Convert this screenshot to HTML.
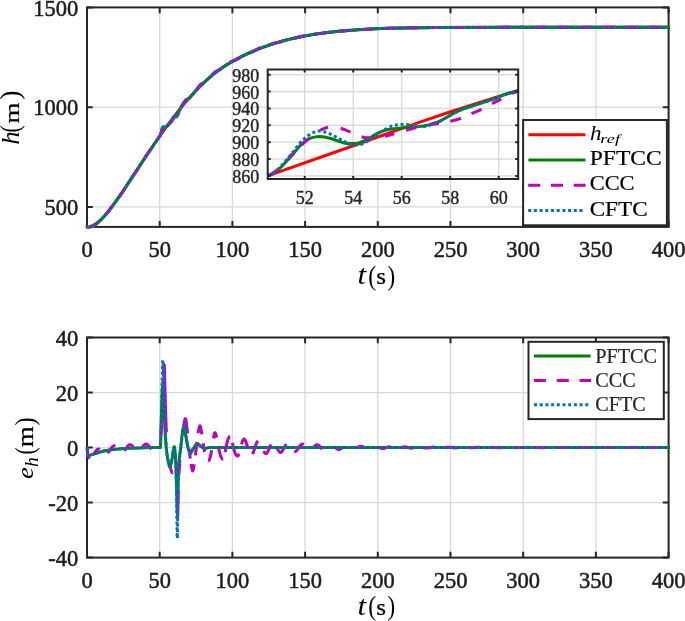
<!DOCTYPE html>
<html><head><meta charset="utf-8"><title>h and e_h plots</title><style>html,body{margin:0;padding:0;background:#fff}svg{display:block}</style></head><body>
<svg width="685" height="621" viewBox="0 0 685 621" font-family="'Liberation Serif', serif">
<rect width="685" height="621" fill="#fff"/>
<defs><clipPath id="c1"><rect x="85.5" y="5.9" width="584.6" height="222.5"/></clipPath><clipPath id="c2"><rect x="85.5" y="336.0" width="584.6" height="223.10000000000002"/></clipPath><clipPath id="ci"><rect x="267.7" y="69.5" width="252.00000000000006" height="109.5"/></clipPath></defs>
<line x1="159.70" y1="7.4" x2="159.70" y2="226.9" stroke="#d8d8d8" stroke-width="1.3"/>
<line x1="232.40" y1="7.4" x2="232.40" y2="226.9" stroke="#d8d8d8" stroke-width="1.3"/>
<line x1="305.10" y1="7.4" x2="305.10" y2="226.9" stroke="#d8d8d8" stroke-width="1.3"/>
<line x1="377.80" y1="7.4" x2="377.80" y2="226.9" stroke="#d8d8d8" stroke-width="1.3"/>
<line x1="450.50" y1="7.4" x2="450.50" y2="226.9" stroke="#d8d8d8" stroke-width="1.3"/>
<line x1="523.20" y1="7.4" x2="523.20" y2="226.9" stroke="#d8d8d8" stroke-width="1.3"/>
<line x1="595.90" y1="7.4" x2="595.90" y2="226.9" stroke="#d8d8d8" stroke-width="1.3"/>
<line x1="87.0" y1="206.95" x2="668.6" y2="206.95" stroke="#d8d8d8" stroke-width="1.3"/>
<line x1="87.0" y1="107.17" x2="668.6" y2="107.17" stroke="#d8d8d8" stroke-width="1.3"/>
<path d="M87.00 226.9v-5.8M87.00 7.4v5.8M159.70 226.9v-5.8M159.70 7.4v5.8M232.40 226.9v-5.8M232.40 7.4v5.8M305.10 226.9v-5.8M305.10 7.4v5.8M377.80 226.9v-5.8M377.80 7.4v5.8M450.50 226.9v-5.8M450.50 7.4v5.8M523.20 226.9v-5.8M523.20 7.4v5.8M595.90 226.9v-5.8M595.90 7.4v5.8M668.60 226.9v-5.8M668.60 7.4v5.8M87.0 206.95h5.8M668.6 206.95h-5.8M87.0 107.17h5.8M668.6 107.17h-5.8M87.0 7.40h5.8M668.6 7.40h-5.8" stroke="#262626" stroke-width="2" fill="none"/>
<rect x="87.0" y="7.4" width="581.6" height="219.5" fill="none" stroke="#262626" stroke-width="2"/>
<g font-size="22.5" fill="#1c1c1c" stroke="#1c1c1c" stroke-width="0.5">
<text x="87.00" y="256.8" text-anchor="middle">0</text>
<text x="159.70" y="256.8" text-anchor="middle">50</text>
<text x="232.40" y="256.8" text-anchor="middle">100</text>
<text x="305.10" y="256.8" text-anchor="middle">150</text>
<text x="377.80" y="256.8" text-anchor="middle">200</text>
<text x="450.50" y="256.8" text-anchor="middle">250</text>
<text x="523.20" y="256.8" text-anchor="middle">300</text>
<text x="595.90" y="256.8" text-anchor="middle">350</text>
<text x="668.60" y="256.8" text-anchor="middle">400</text>
<text x="78.3" y="215.1" text-anchor="end">500</text>
<text x="78.3" y="115.4" text-anchor="end">1000</text>
<text x="78.3" y="15.6" text-anchor="end">1500</text>
</g>
<g clip-path="url(#c1)">
<path d="M87.00 226.93L88.16 226.88L89.33 226.70L90.49 226.42L91.73 225.99L92.96 225.46L94.20 224.81L95.43 224.05L96.74 223.15L98.05 222.13L99.43 220.96L102.19 218.31L105.17 215.08L108.37 211.25L111.21 207.63L114.34 203.45L117.53 199.01L120.95 194.11L127.13 184.95L142.54 161.49L151.27 148.44L159.99 135.76L167.92 124.70L172.13 119.03L176.28 113.63L180.27 108.58L184.20 103.81L188.05 99.30L191.91 94.97L195.69 90.90L199.54 86.94L203.32 83.24L207.10 79.69L210.59 76.59L213.86 73.86L217.21 71.27L220.62 68.80L224.26 66.36L228.04 64.00L232.55 61.36L237.42 58.69L242.29 56.19L247.23 53.82L252.25 51.58L257.34 49.46L262.57 47.44L267.88 45.54L273.26 43.77L278.78 42.09L284.38 40.53L290.12 39.08L295.94 37.74L301.90 36.50L308.01 35.36L314.33 34.31L320.66 33.38L327.27 32.52L334.11 31.75L341.30 31.05L349.01 30.41L357.30 29.82L365.88 29.30L374.75 28.86L388.41 28.33L403.10 27.94L419.17 27.69L438.29 27.53L514.26 27.35L668.60 27.35" fill="none" stroke="#ff0000" stroke-width="3.0" stroke-linejoin="round" stroke-linecap="square"/>
<path d="M87.00 226.93L87.65 227.34L88.09 227.46L89.25 227.28L90.56 226.93L91.94 226.41L93.32 225.75L94.71 224.95L96.16 223.97L97.54 222.92L98.92 221.76L101.76 219.05L104.81 215.73L108.16 211.71L111.14 207.88L114.41 203.48L117.82 198.70L121.53 193.35L127.71 184.13L140.65 164.38L147.41 154.17L154.10 144.27L160.28 135.34L160.50 134.87L160.72 134.16L161.95 129.31L162.54 127.60L162.90 126.85L163.12 126.67L163.33 126.66L163.92 126.88L164.64 127.37L165.01 127.40L165.44 127.34L165.88 127.19L166.75 126.63L167.48 126.00L168.71 124.79L169.88 123.43L171.11 121.52L173.51 117.32L173.95 116.69L174.46 116.14L174.89 115.77L175.33 115.60L175.69 115.63L176.35 116.03L176.64 116.12L176.93 116.04L177.22 115.79L177.58 115.28L177.88 114.70L178.97 111.59L179.77 109.81L182.09 105.43L183.84 102.67L184.49 101.93L185.80 101.08L187.18 100.03L189.87 97.65L190.82 96.59L195.25 91.22L197.79 88.44L208.41 78.51L210.88 76.34L213.43 74.22L216.70 71.65L220.11 69.16L223.68 66.74L227.38 64.39L231.96 61.69L236.91 58.96L241.85 56.41L246.87 53.99L251.96 51.71L257.19 49.52L262.50 47.47L267.88 45.54L273.26 43.77L278.78 42.09L284.38 40.53L290.12 39.08L295.94 37.74L301.90 36.50L308.01 35.36L314.33 34.31L320.66 33.38L327.27 32.52L334.11 31.75L341.30 31.05L349.01 30.41L357.30 29.82L365.88 29.30L374.75 28.86L388.41 28.33L403.10 27.94L419.17 27.69L438.29 27.53L514.26 27.35L668.60 27.35" fill="none" stroke="#008000" stroke-width="3.0" stroke-linejoin="round" stroke-linecap="square"/>
<path d="M87.00 226.93L87.65 227.37L88.02 227.52L88.89 227.51L89.91 227.39L90.93 227.05L91.94 226.61L93.03 226.00L94.20 225.25L95.80 224.07L97.91 222.37L100.30 220.33L102.19 218.62L104.88 215.88L107.50 212.74L109.39 210.21L114.41 203.22L119.79 196.05L121.97 192.97L124.15 189.66L130.26 180.00L136.29 171.23L138.33 168.18L144.00 159.13L146.03 155.98L148.21 152.80L153.59 145.27L158.17 138.35L160.28 135.34L160.86 133.85L161.52 131.86L162.61 127.66L163.55 125.06L164.21 123.78L164.35 123.68L164.50 123.76L165.01 124.52L165.73 125.33L166.02 125.56L166.68 125.73L166.97 125.71L167.26 125.59L167.92 125.14L168.71 124.44L171.55 121.54L172.64 120.18L173.88 118.07L174.82 116.95L175.26 116.59L175.62 116.40L175.91 116.36L176.71 116.52L177.00 116.41L177.29 116.15L177.73 115.55L178.09 114.81L179.11 111.89L179.77 110.34L181.58 106.92L182.75 104.50L184.35 101.77L185.51 100.16L186.24 99.54L187.54 98.81L190.67 97.40L191.76 96.63L192.41 96.08L193.00 95.44L193.72 94.41L198.01 87.48L199.10 85.97L199.83 85.08L200.34 84.60L200.99 84.16L202.23 83.49L203.61 82.90L205.21 81.94L206.23 81.21L208.34 79.53L209.28 78.63L210.66 77.11L213.35 73.61L214.30 72.54L214.95 71.92L215.75 71.40L216.99 70.80L218.51 70.28L220.40 69.52L222.59 68.30L223.39 67.71L224.62 66.63L227.67 63.69L228.98 62.68L229.93 62.05L230.73 61.66L231.89 61.23L233.35 60.89L235.09 60.35L237.42 59.31L239.52 57.96L242.36 55.72L244.18 54.65L245.70 54.08L249.34 53.23L251.16 52.61L252.97 51.68L256.90 49.27L257.99 48.72L259.01 48.31L260.53 47.88L263.81 47.26L265.33 46.87L267.15 46.17L271.08 44.23L272.97 43.47L274.86 42.97L278.56 42.39L280.38 41.99L282.20 41.39L285.91 39.92L287.65 39.37L289.47 39.00L293.25 38.54L294.99 38.23L296.74 37.78L300.74 36.54L302.92 36.05L304.59 35.83L308.08 35.52L309.61 35.31L311.35 34.96L315.21 34.03L317.10 33.68L318.77 33.50L322.48 33.26L324.22 33.09L325.96 32.82L329.89 32.10L332.00 31.82L338.83 31.43L346.25 30.50L353.45 30.20L361.15 29.47L368.06 29.28L375.91 28.72L382.23 28.62L389.80 28.22L397.36 28.13L404.34 27.87L411.53 27.84L419.02 27.65L426.51 27.65L434.22 27.52L440.98 27.55L448.39 27.46L455.66 27.49L477.84 27.39L523.20 27.35" fill="none" stroke="#bf00bf" stroke-width="3.0" stroke-linejoin="round" stroke-dasharray="12 10.8"/>
<path d="M668.60 27.35L523.20 27.35" fill="none" stroke="#bf00bf" stroke-width="3.0" stroke-linejoin="round" stroke-dasharray="12 10.8" stroke-dashoffset="14.8"/>
<path d="M87.00 226.93L87.65 227.34L88.09 227.46L89.40 227.25L90.85 226.83L92.23 226.29L93.69 225.56L95.14 224.67L96.67 223.60L98.05 222.50L99.50 221.24L102.56 218.22L105.83 214.54L109.54 209.96L112.37 206.24L115.43 202.08L122.04 192.60L127.93 183.80L147.34 154.28L154.03 144.37L160.28 135.34L160.57 134.67L160.86 133.63L161.30 131.91L162.46 126.60L162.68 125.80L162.90 125.30L163.04 125.19L163.19 125.25L163.70 125.95L164.43 126.75L164.72 126.98L165.15 127.07L165.59 127.07L166.02 126.96L166.46 126.75L167.12 126.30L167.70 125.79L168.93 124.58L169.81 123.55L170.90 121.89L173.51 117.36L173.95 116.75L174.46 116.23L174.97 115.87L175.40 115.79L175.77 115.99L176.35 116.75L176.64 116.99L176.93 116.98L177.22 116.75L177.58 116.23L177.88 115.60L178.97 111.86L179.91 109.64L181.51 106.64L183.18 103.75L183.98 102.46L184.64 101.60L185.07 101.24L186.02 100.78L187.18 99.98L189.43 98.11L190.52 96.94L192.92 93.98L195.61 90.80L197.00 89.27L198.23 88.01L209.06 77.93L212.84 74.69L216.55 71.76L219.82 69.36L223.24 67.03L226.80 64.75L230.66 62.44L234.87 60.06L239.23 57.74L243.67 55.51L248.10 53.42L252.90 51.30L257.85 49.26L262.86 47.33L268.02 45.50L273.26 43.77L278.64 42.13L284.09 40.61L289.69 39.18L295.29 37.88L301.03 36.67L306.84 35.56L312.88 34.54L319.06 33.60L325.46 32.75L332.07 31.97L338.98 31.27L345.81 30.67L353.01 30.11L368.49 29.16L384.78 28.45L402.45 27.96L419.09 27.69L438.87 27.53L479.29 27.40L523.20 27.35" fill="none" stroke="#0072bd" stroke-width="3.0" stroke-linejoin="round" stroke-dasharray="3 2.7"/>
<path d="M668.60 27.35L523.20 27.35" fill="none" stroke="#0072bd" stroke-width="3.0" stroke-linejoin="round" stroke-dasharray="3 2.7" stroke-dashoffset="4.6"/>
</g>
<rect x="267.7" y="69.5" width="250.50000000000006" height="109.5" fill="#fff"/>
<line x1="304.70" y1="69.5" x2="304.70" y2="179.0" stroke="#d8d8d8" stroke-width="1.3"/>
<line x1="353.20" y1="69.5" x2="353.20" y2="179.0" stroke="#d8d8d8" stroke-width="1.3"/>
<line x1="401.70" y1="69.5" x2="401.70" y2="179.0" stroke="#d8d8d8" stroke-width="1.3"/>
<line x1="450.20" y1="69.5" x2="450.20" y2="179.0" stroke="#d8d8d8" stroke-width="1.3"/>
<line x1="498.70" y1="69.5" x2="498.70" y2="179.0" stroke="#d8d8d8" stroke-width="1.3"/>
<line x1="267.7" y1="175.90" x2="518.2" y2="175.90" stroke="#d8d8d8" stroke-width="1.3"/>
<line x1="267.7" y1="159.03" x2="518.2" y2="159.03" stroke="#d8d8d8" stroke-width="1.3"/>
<line x1="267.7" y1="142.16" x2="518.2" y2="142.16" stroke="#d8d8d8" stroke-width="1.3"/>
<line x1="267.7" y1="125.30" x2="518.2" y2="125.30" stroke="#d8d8d8" stroke-width="1.3"/>
<line x1="267.7" y1="108.43" x2="518.2" y2="108.43" stroke="#d8d8d8" stroke-width="1.3"/>
<line x1="267.7" y1="91.57" x2="518.2" y2="91.57" stroke="#d8d8d8" stroke-width="1.3"/>
<line x1="267.7" y1="74.70" x2="518.2" y2="74.70" stroke="#d8d8d8" stroke-width="1.3"/>
<g clip-path="url(#ci)">
<path d="M267.65 175.90L357.56 144.24L406.30 126.85L426.47 119.84L449.16 112.27L473.52 104.37L496.21 97.23L518.90 90.30" fill="none" stroke="#ff0000" stroke-width="3.0" stroke-linejoin="round"/>
<path d="M267.65 175.91L270.17 174.83L272.69 173.44L276.05 171.22L279.41 168.68L281.93 166.28L290.34 157.25L293.70 153.43L298.74 147.14L300.42 145.33L303.78 142.23L305.46 140.88L306.30 140.29L307.14 139.77L308.82 138.91L311.34 137.86L313.02 137.36L315.55 136.88L317.23 136.64L319.75 136.50L322.27 136.69L325.63 137.30L330.67 138.49L333.19 139.28L339.07 141.36L344.11 142.96L346.64 143.60L348.32 143.79L350.00 143.50L355.88 143.50L356.72 143.43L357.56 143.28L358.40 143.06L360.08 142.47L363.44 141.13L365.12 140.40L367.64 139.11L371.00 137.25L375.20 134.61L376.88 133.63L379.41 132.43L381.93 131.35L383.61 130.74L385.29 130.26L389.49 129.33L392.01 128.93L394.53 128.62L409.66 127.14L418.90 126.51L423.10 126.03L425.62 125.60L428.98 124.89L434.86 123.02L437.38 122.15L439.91 121.07L441.59 120.19L452.51 114.00L457.55 111.34L459.23 110.53L460.91 109.82L463.43 108.92L482.76 102.57L491.16 99.90L494.52 98.77L497.88 97.51L502.93 95.19L506.29 93.98L509.65 92.97L512.17 92.33L515.53 91.60L518.89 91.01" fill="none" stroke="#008000" stroke-width="3.0" stroke-linejoin="round"/>
<path d="M267.65 175.91L270.16 174.73L272.68 173.25L275.40 171.37L278.55 168.95" fill="none" stroke="#bf00bf" stroke-width="3.0" stroke-linejoin="round"/>
<path d="M288.18 158.67L292.17 153.96L293.63 152.40L295.31 150.75" fill="none" stroke="#bf00bf" stroke-width="3.0" stroke-linejoin="round"/>
<path d="M301.39 145.17L305.58 141.35L309.14 138.28" fill="none" stroke="#bf00bf" stroke-width="3.0" stroke-linejoin="round"/>
<path d="M320.24 130.22L321.92 129.39L324.85 128.24L326.53 127.68L328.00 127.32" fill="none" stroke="#bf00bf" stroke-width="3.0" stroke-linejoin="round"/>
<path d="M340.78 128.26L345.60 129.99L350.42 132.20" fill="none" stroke="#bf00bf" stroke-width="3.0" stroke-linejoin="round"/>
<path d="M361.52 136.70L363.41 137.23L365.09 137.56L370.12 138.01" fill="none" stroke="#bf00bf" stroke-width="3.0" stroke-linejoin="round"/>
<path d="M384.99 136.39L390.65 134.79L394.21 133.71" fill="none" stroke="#bf00bf" stroke-width="3.0" stroke-linejoin="round"/>
<path d="M406.16 130.24L412.65 128.46L416.21 127.60" fill="none" stroke="#bf00bf" stroke-width="3.0" stroke-linejoin="round"/>
<path d="M430.25 124.64L432.35 124.32L438.85 123.52" fill="none" stroke="#bf00bf" stroke-width="3.0" stroke-linejoin="round"/>
<path d="M450.37 121.21L456.45 119.73L461.06 118.36" fill="none" stroke="#bf00bf" stroke-width="3.0" stroke-linejoin="round"/>
<path d="M471.53 113.60L478.66 110.61L481.59 109.29" fill="none" stroke="#bf00bf" stroke-width="3.0" stroke-linejoin="round"/>
<path d="M492.07 103.61L501.29 99.08" fill="none" stroke="#bf00bf" stroke-width="3.0" stroke-linejoin="round"/>
<path d="M511.77 93.42L515.54 92.07L518.89 91.15" fill="none" stroke="#bf00bf" stroke-width="3.0" stroke-linejoin="round"/>
<path d="M267.65 175.91L270.17 174.70L271.85 173.70L273.53 172.58L275.21 171.35L277.73 169.34L279.41 167.89L280.25 167.06L282.77 164.26L291.18 154.32L293.70 151.19L297.90 145.49L299.58 143.37L301.26 141.53L303.78 139.05L305.46 137.56L307.14 136.24L310.50 133.96L312.18 133.02L313.02 132.64L315.55 131.74L317.23 131.25L318.07 131.07L318.91 130.97L320.59 131.01L321.43 131.14L323.11 131.52L325.63 132.20L327.31 132.74L329.83 133.76L333.19 135.32L334.87 136.22L339.91 139.12L346.64 142.47L347.48 142.92L349.16 143.98L350.00 144.27L351.68 144.60L353.36 144.83L355.88 144.96L358.40 144.78L360.92 144.35L361.76 144.18L362.60 143.89L363.44 143.48L365.96 142.01L367.64 140.94L374.36 136.41L378.57 133.36L380.25 132.26L385.29 129.39L387.81 127.75L388.65 127.29L391.17 126.29L392.85 125.77L394.53 125.36L397.89 124.78L400.41 124.53L407.13 124.54L408.82 124.80L411.34 125.44L414.70 126.09L416.38 126.35L417.22 126.41L424.78 126.38L426.46 126.19L428.98 125.66L429.82 125.34L430.66 124.62L431.50 124.05L432.34 123.68L434.02 123.10L437.38 122.12L438.22 121.81L439.91 121.07L441.59 120.19L452.51 114.00L457.55 111.34L459.23 110.53L460.91 109.82L463.43 108.92L482.76 102.57L491.16 99.90L494.52 98.77L497.88 97.51L502.93 95.19L506.29 93.98L509.65 92.97L512.17 92.33L515.53 91.60L518.89 91.01" fill="none" stroke="#0072bd" stroke-width="3.0" stroke-linejoin="round" stroke-dasharray="3 2.7"/>
</g>
<path d="M304.70 179.0v-3.0M304.70 69.5v3.0M353.20 179.0v-3.0M353.20 69.5v3.0M401.70 179.0v-3.0M401.70 69.5v3.0M450.20 179.0v-3.0M450.20 69.5v3.0M498.70 179.0v-3.0M498.70 69.5v3.0M267.7 175.90h3.0M518.2 175.90h-3.0M267.7 159.03h3.0M518.2 159.03h-3.0M267.7 142.16h3.0M518.2 142.16h-3.0M267.7 125.30h3.0M518.2 125.30h-3.0M267.7 108.43h3.0M518.2 108.43h-3.0M267.7 91.57h3.0M518.2 91.57h-3.0M267.7 74.70h3.0M518.2 74.70h-3.0" stroke="#262626" stroke-width="2" fill="none"/>
<rect x="267.7" y="69.5" width="250.50000000000006" height="109.5" fill="none" stroke="#262626" stroke-width="2"/>
<g font-size="18" fill="#262626" stroke="#262626" stroke-width="0.4">
<text x="304.70" y="204.4" text-anchor="middle">52</text>
<text x="353.20" y="204.4" text-anchor="middle">54</text>
<text x="401.70" y="204.4" text-anchor="middle">56</text>
<text x="450.20" y="204.4" text-anchor="middle">58</text>
<text x="498.70" y="204.4" text-anchor="middle">60</text>
<text x="259.3" y="182.9" text-anchor="end">860</text>
<text x="259.3" y="166.0" text-anchor="end">880</text>
<text x="259.3" y="149.2" text-anchor="end">900</text>
<text x="259.3" y="132.3" text-anchor="end">920</text>
<text x="259.3" y="115.4" text-anchor="end">940</text>
<text x="259.3" y="98.6" text-anchor="end">960</text>
<text x="259.3" y="81.7" text-anchor="end">980</text>
</g>
<rect x="523.1" y="120" width="143.8" height="105.3" fill="#fff" stroke="#262626" stroke-width="2"/>
<path d="M528.4 134.8H585.4" stroke="#ff0000" stroke-width="3.0"/>
<path d="M528.4 160.1H585.4" stroke="#008000" stroke-width="3.0"/>
<path d="M528.2 185.3H585.6" stroke="#bf00bf" stroke-width="3.0" stroke-dasharray="12 10.8"/>
<path d="M528.2 210.5H585.1" stroke="#0072bd" stroke-width="3.0" stroke-dasharray="3 2.7"/>
<text transform="translate(589.91,139.99) scale(0.2302,0.2071)" font-size="100" font-style="italic" fill="#000">h</text><text transform="translate(600.37,142.61) scale(0.1825,0.1283)" font-size="100" font-style="italic" fill="#000">ref</text>
<text transform="translate(589.73,165.07) scale(0.2358,0.2147)" font-size="100" fill="#000" stroke="#000" stroke-width="0.9">PFTCC</text>
<text transform="translate(589.70,190.27) scale(0.2241,0.2147)" font-size="100" fill="#000" stroke="#000" stroke-width="0.9">CCC</text>
<text transform="translate(589.67,215.57) scale(0.2316,0.2147)" font-size="100" fill="#000" stroke="#000" stroke-width="0.9">CFTC</text>
<line x1="159.70" y1="337.5" x2="159.70" y2="557.6" stroke="#d8d8d8" stroke-width="1.3"/>
<line x1="232.40" y1="337.5" x2="232.40" y2="557.6" stroke="#d8d8d8" stroke-width="1.3"/>
<line x1="305.10" y1="337.5" x2="305.10" y2="557.6" stroke="#d8d8d8" stroke-width="1.3"/>
<line x1="377.80" y1="337.5" x2="377.80" y2="557.6" stroke="#d8d8d8" stroke-width="1.3"/>
<line x1="450.50" y1="337.5" x2="450.50" y2="557.6" stroke="#d8d8d8" stroke-width="1.3"/>
<line x1="523.20" y1="337.5" x2="523.20" y2="557.6" stroke="#d8d8d8" stroke-width="1.3"/>
<line x1="595.90" y1="337.5" x2="595.90" y2="557.6" stroke="#d8d8d8" stroke-width="1.3"/>
<line x1="87.0" y1="502.57" x2="668.6" y2="502.57" stroke="#d8d8d8" stroke-width="1.3"/>
<line x1="87.0" y1="447.55" x2="668.6" y2="447.55" stroke="#d8d8d8" stroke-width="1.3"/>
<line x1="87.0" y1="392.53" x2="668.6" y2="392.53" stroke="#d8d8d8" stroke-width="1.3"/>
<path d="M87.00 557.6v-5.8M87.00 337.5v5.8M159.70 557.6v-5.8M159.70 337.5v5.8M232.40 557.6v-5.8M232.40 337.5v5.8M305.10 557.6v-5.8M305.10 337.5v5.8M377.80 557.6v-5.8M377.80 337.5v5.8M450.50 557.6v-5.8M450.50 337.5v5.8M523.20 557.6v-5.8M523.20 337.5v5.8M595.90 557.6v-5.8M595.90 337.5v5.8M668.60 557.6v-5.8M668.60 337.5v5.8M87.0 557.60h5.8M668.6 557.60h-5.8M87.0 502.57h5.8M668.6 502.57h-5.8M87.0 447.55h5.8M668.6 447.55h-5.8M87.0 392.53h5.8M668.6 392.53h-5.8M87.0 337.50h5.8M668.6 337.50h-5.8" stroke="#262626" stroke-width="2" fill="none"/>
<rect x="87.0" y="337.5" width="581.6" height="220.10000000000002" fill="none" stroke="#262626" stroke-width="2"/>
<g font-size="22.5" fill="#1c1c1c" stroke="#1c1c1c" stroke-width="0.5">
<text x="87.00" y="587.5" text-anchor="middle">0</text>
<text x="159.70" y="587.5" text-anchor="middle">50</text>
<text x="232.40" y="587.5" text-anchor="middle">100</text>
<text x="305.10" y="587.5" text-anchor="middle">150</text>
<text x="377.80" y="587.5" text-anchor="middle">200</text>
<text x="450.50" y="587.5" text-anchor="middle">250</text>
<text x="523.20" y="587.5" text-anchor="middle">300</text>
<text x="595.90" y="587.5" text-anchor="middle">350</text>
<text x="668.60" y="587.5" text-anchor="middle">400</text>
<text x="78.3" y="565.8" text-anchor="end">-40</text>
<text x="78.3" y="510.8" text-anchor="end">-20</text>
<text x="78.3" y="455.8" text-anchor="end">0</text>
<text x="78.3" y="400.7" text-anchor="end">20</text>
<text x="78.3" y="345.7" text-anchor="end">40</text>
</g>
<g clip-path="url(#c2)">
<path d="M87.00 447.55L87.73 453.90L87.95 455.08L88.09 455.48L88.16 455.53L88.74 455.48L89.47 455.31L97.76 452.75L104.81 450.82L106.56 450.44L108.45 450.13L114.04 449.39L118.55 448.96L124.59 448.54L130.33 448.24L138.76 447.89L148.94 447.58L160.28 447.55L160.35 447.28L160.50 445.31L160.72 439.73L161.95 397.03L162.54 384.78L162.75 382.10L162.90 381.52L162.97 381.72L163.12 383.19L163.33 387.36L163.92 401.57L164.64 422.30L165.37 436.01L165.81 442.45L166.24 447.55L166.90 453.39L167.55 457.77L168.50 462.73L169.08 465.25L169.37 466.14L169.59 466.58L169.81 466.79L170.02 466.74L170.39 466.08L170.75 464.84L172.13 458.21L172.50 456.08L173.44 449.50L173.88 447.38L174.02 446.97L174.17 446.75L174.31 446.78L174.39 446.92L174.60 447.90L174.89 450.19L175.48 456.77L175.91 465.92L176.49 483.03L177.08 509.64L177.22 513.10L177.29 513.58L177.37 513.07L177.51 509.47L178.17 480.56L178.67 468.86L179.18 460.32L179.69 455.16L180.86 446.92L181.80 437.29L182.16 434.26L182.89 429.81L183.33 427.54L183.76 426.00L183.98 425.62L184.13 425.54L184.35 425.88L184.64 427.21L185.80 436.11L186.82 441.83L187.47 445.14L187.98 447.28L189.29 452.01L189.80 453.22L190.02 453.50L190.23 453.60L190.45 453.55L190.67 453.40L191.11 452.85L192.85 449.38L195.54 445.25L196.05 444.61L196.56 444.11L197.07 443.79L197.50 443.70L198.01 443.83L198.52 444.16L200.34 446.08L201.07 446.68L202.67 447.57L203.61 448.02L204.48 448.29L205.21 448.38L206.01 448.29L208.19 447.67L209.14 447.55L668.60 447.55" fill="none" stroke="#008000" stroke-width="3.0" stroke-linejoin="round" stroke-linecap="square"/>
<path d="M87.00 447.55L87.65 453.85L88.02 456.20L88.16 456.58L89.76 458.60" fill="none" stroke="#bf00bf" stroke-width="3.0" stroke-linejoin="round"/>
<path d="M94.27 453.53L95.22 451.96L95.94 450.89L96.67 450.02L97.32 449.45L97.98 449.11L98.56 449.02L99.21 449.13L99.94 449.50" fill="none" stroke="#bf00bf" stroke-width="3.0" stroke-linejoin="round"/>
<path d="M107.65 453.15L108.81 451.74L111.43 447.86L112.52 446.61L113.24 446.08L113.97 445.82L114.63 445.84L115.35 446.14" fill="none" stroke="#bf00bf" stroke-width="3.0" stroke-linejoin="round"/>
<path d="M124.37 450.74L127.64 446.27L128.51 445.37L128.95 445.05L129.38 444.82L129.89 444.69L130.33 444.68L130.77 444.78L131.27 445.03L132.22 445.81L133.38 447.20" fill="none" stroke="#bf00bf" stroke-width="3.0" stroke-linejoin="round"/>
<path d="M141.82 448.08L143.27 446.05L144.36 444.86L144.87 444.46L145.38 444.20L145.89 444.07L146.32 444.08L146.76 444.19L147.27 444.45L148.21 445.25L149.09 446.28L151.41 449.40" fill="none" stroke="#bf00bf" stroke-width="3.0" stroke-linejoin="round"/>
<path d="M161.01 435.40L161.59 421.53" fill="none" stroke="#bf00bf" stroke-width="3.0" stroke-linejoin="round"/>
<path d="M163.33 372.90L163.63 368.52L163.92 365.55L164.06 364.74L164.21 364.46L164.35 365.89L164.57 372.16L165.01 390.00L165.73 415.00L166.39 432.32" fill="none" stroke="#bf00bf" stroke-width="3.0" stroke-linejoin="round"/>
<path d="M170.17 466.25L170.90 469.39L171.55 471.54L171.84 472.21L172.13 472.65L172.35 472.83L172.50 472.86L172.64 472.69" fill="none" stroke="#bf00bf" stroke-width="3.0" stroke-linejoin="round"/>
<path d="M177.29 516.59L177.44 518.26L177.51 517.85L177.66 514.94L178.24 490.40" fill="none" stroke="#bf00bf" stroke-width="3.0" stroke-linejoin="round"/>
<path d="M178.89 474.61L179.40 466.43L179.91 460.08" fill="none" stroke="#bf00bf" stroke-width="3.0" stroke-linejoin="round"/>
<path d="M183.11 429.99L183.91 424.40L184.49 421.10L185.00 419.23L185.29 418.73L185.44 418.66L185.51 418.69L185.65 418.95L185.87 419.73L186.24 421.92L187.62 433.47" fill="none" stroke="#bf00bf" stroke-width="3.0" stroke-linejoin="round"/>
<path d="M189.22 448.90L190.23 458.69" fill="none" stroke="#bf00bf" stroke-width="3.0" stroke-linejoin="round"/>
<path d="M190.96 464.06L191.98 469.30L192.34 470.49L192.56 470.86L192.71 470.94L192.85 470.84L193.00 470.56L193.29 469.53L193.65 467.59L194.16 464.21" fill="none" stroke="#bf00bf" stroke-width="3.0" stroke-linejoin="round"/>
<path d="M195.40 455.41L197.00 441.90" fill="none" stroke="#bf00bf" stroke-width="3.0" stroke-linejoin="round"/>
<path d="M198.09 433.22L198.89 429.02L199.32 427.12L199.69 426.10L199.90 425.83L200.05 425.84L200.19 426.00L200.41 426.51L200.78 427.94L201.87 434.33" fill="none" stroke="#bf00bf" stroke-width="3.0" stroke-linejoin="round"/>
<path d="M203.10 443.16L203.68 447.16L204.63 451.87" fill="none" stroke="#bf00bf" stroke-width="3.0" stroke-linejoin="round"/>
<path d="M208.26 460.68L208.63 460.75L208.99 460.43L209.35 459.73L209.79 458.52L210.81 454.93L211.61 450.34" fill="none" stroke="#bf00bf" stroke-width="3.0" stroke-linejoin="round"/>
<path d="M213.35 438.38L214.37 433.80L214.66 433.00L214.81 432.77L214.95 432.69L215.10 432.75L215.32 433.01L215.68 433.86L216.70 437.63" fill="none" stroke="#bf00bf" stroke-width="3.0" stroke-linejoin="round"/>
<path d="M218.44 446.84L219.75 452.95L220.19 454.67L220.55 455.82L221.42 457.71L222.00 458.66L222.29 458.96L222.51 459.08L222.73 459.09L222.95 458.95" fill="none" stroke="#bf00bf" stroke-width="3.0" stroke-linejoin="round"/>
<path d="M225.13 452.14L225.93 447.88L227.09 442.55L227.67 440.31L228.04 439.30L228.98 437.24L229.49 436.50L229.71 436.33L229.93 436.27" fill="none" stroke="#bf00bf" stroke-width="3.0" stroke-linejoin="round"/>
<path d="M232.40 442.75L233.20 446.67L234.00 449.68L234.87 452.54L235.53 454.04L236.18 455.01L236.69 455.63L237.13 455.98L237.49 456.08L237.85 455.92L238.22 455.47L239.09 453.72" fill="none" stroke="#bf00bf" stroke-width="3.0" stroke-linejoin="round"/>
<path d="M241.56 444.47L242.14 442.14L242.58 440.95L243.16 439.89L243.60 439.30L244.03 439.02L244.32 439.13L244.69 439.44L245.05 439.94L245.41 440.63L245.85 441.66L246.65 444.02L247.96 448.49" fill="none" stroke="#bf00bf" stroke-width="3.0" stroke-linejoin="round"/>
<path d="M252.47 454.18L253.05 453.06L253.63 451.62L255.66 445.51L256.46 443.38L257.26 441.78L257.63 441.27L257.99 440.93" fill="none" stroke="#bf00bf" stroke-width="3.0" stroke-linejoin="round"/>
<path d="M263.66 451.04L264.46 452.55L264.90 453.12L265.26 453.45L265.62 453.62L265.99 453.65L266.35 453.52L266.71 453.26L267.37 452.45L268.10 451.12L270.28 445.92L270.93 444.50" fill="none" stroke="#bf00bf" stroke-width="3.0" stroke-linejoin="round"/>
<path d="M277.33 448.47L278.42 450.60L278.86 451.27L279.29 451.80L279.73 452.18L280.16 452.39L280.60 452.43L281.04 452.30L281.40 452.06L281.76 451.72L282.56 450.64L283.29 449.37L285.11 445.85L285.69 444.88L286.20 444.18" fill="none" stroke="#bf00bf" stroke-width="3.0" stroke-linejoin="round"/>
<path d="M294.19 451.16L294.78 451.42L295.36 451.43L295.94 451.20L296.52 450.75L297.03 450.20L297.61 449.43L300.08 445.69L300.74 444.93L301.32 444.43L301.97 444.12L302.56 444.06L303.14 444.23L303.79 444.66" fill="none" stroke="#bf00bf" stroke-width="3.0" stroke-linejoin="round"/>
<path d="M313.39 447.62L314.62 446.14L315.57 445.29L316.00 445.02L316.44 444.84L316.88 444.76L317.31 444.78L318.11 445.06L318.99 445.69L319.79 446.47L321.53 448.41L322.26 449.11" fill="none" stroke="#bf00bf" stroke-width="3.0" stroke-linejoin="round"/>
<path d="M334.33 446.63L336.14 448.24L337.09 448.94L338.03 449.40L338.91 449.55L339.78 449.42L340.72 448.99L341.60 448.40L343.92 446.60" fill="none" stroke="#bf00bf" stroke-width="3.0" stroke-linejoin="round"/>
<path d="M356.57 448.01L358.10 447.04L359.04 446.54L359.99 446.22L360.86 446.12L361.73 446.22L362.61 446.50L363.55 446.96L365.30 447.95" fill="none" stroke="#bf00bf" stroke-width="3.0" stroke-linejoin="round"/>
<path d="M378.96 447.44L380.20 447.99L381.07 448.31L381.94 448.51L382.74 448.57L383.54 448.52L384.34 448.35L385.29 448.04L388.12 446.95L389.07 446.72L390.01 446.64L390.81 446.68L391.61 446.83L395.47 448.10L396.41 448.30L397.36 448.37L398.16 448.32L398.96 448.19L402.74 447.07L403.68 446.89L404.63 446.82L406.23 446.97L410.08 447.99L411.02 448.15L411.97 448.20L413.57 448.06L417.35 447.16L418.29 447.02L419.24 446.97L420.84 447.09L424.69 447.90L425.64 448.03L426.58 448.07L428.18 447.96L431.96 447.24L433.85 447.08L435.45 447.18L439.30 447.83L441.19 447.97L442.79 447.88L446.57 447.30L448.46 447.18L450.06 447.25L453.92 447.78L455.81 447.88L457.41 447.81L461.19 447.35L463.00 447.25L464.68 447.31L468.46 447.72L470.35 447.82L472.02 447.76L475.80 447.39L477.62 447.31L479.29 447.36L483.07 447.69L484.96 447.76L486.63 447.72L490.34 447.43L492.16 447.36L493.90 447.40L497.68 447.66L499.57 447.72L501.32 447.68L506.55 447.40L508.44 447.43L514.19 447.69L520.44 447.44L523.20 447.46" fill="none" stroke="#bf00bf" stroke-width="3.0" stroke-linejoin="round" stroke-dasharray="12 10.8"/>
<path d="M668.60 447.54L631.09 447.57L623.74 447.52L616.55 447.58L609.13 447.52L601.93 447.59L594.59 447.51L587.32 447.59L579.98 447.50L572.71 447.61L565.37 447.49L558.10 447.62L550.75 447.47L543.48 447.64L536.14 447.45L528.87 447.66L523.20 447.46" fill="none" stroke="#bf00bf" stroke-width="3.0" stroke-linejoin="round" stroke-dasharray="12 10.8" stroke-dashoffset="14.2"/>
<path d="M87.00 447.55L87.73 453.90L87.95 455.08L88.09 455.48L88.16 455.53L88.74 455.48L89.47 455.31L97.76 452.75L104.81 450.82L106.56 450.44L108.45 450.13L114.04 449.39L118.55 448.96L124.59 448.54L130.33 448.24L138.76 447.89L148.94 447.58L160.28 447.55L160.43 446.57L160.57 443.92L160.86 435.40L161.30 420.18L161.88 392.90L162.46 369.58L162.68 362.79L162.83 360.39L162.90 360.06L163.04 361.42L163.19 365.01L164.43 409.60L164.93 423.31L165.52 434.89L166.02 442.98L166.53 449.13L167.19 455.16L167.70 458.56L168.86 464.64L169.15 465.76L169.44 466.58L169.73 467.03L169.95 467.07L170.17 466.82L170.39 466.31L170.97 464.02L172.28 457.47L173.37 450.50L173.88 448.14L174.09 447.65L174.24 447.55L174.31 447.61L174.46 448.09L174.68 449.58L174.97 452.66L175.48 459.66L175.69 463.88L176.35 483.38L176.57 493.74L177.08 531.71L177.22 537.52L177.29 538.34L177.37 537.49L177.51 531.49L177.95 498.18L178.17 486.07L178.60 474.11L179.11 464.44L179.47 459.47L179.91 454.86L181.73 440.03L183.62 427.19L184.13 424.89L184.35 424.35L184.56 424.16L184.64 424.22L184.78 424.62L185.00 425.85L186.09 436.03L187.47 444.76L187.98 447.25L189.14 452.01L189.65 453.43L189.87 453.76L190.09 453.88L190.31 453.83L190.52 453.68L191.03 453.03L192.85 449.38L195.54 445.25L196.05 444.60L196.56 444.11L197.07 443.79L197.50 443.70L198.01 443.83L198.52 444.16L200.34 446.08L201.07 446.68L202.67 447.57L203.61 448.02L204.48 448.29L205.21 448.38L206.01 448.29L208.19 447.67L209.14 447.55L523.20 447.55" fill="none" stroke="#0072bd" stroke-width="3.0" stroke-linejoin="round" stroke-dasharray="3 2.7"/>
<path d="M668.60 447.55L523.20 447.55" fill="none" stroke="#0072bd" stroke-width="3.0" stroke-linejoin="round" stroke-dasharray="3 2.7" stroke-dashoffset="1.3"/>
</g>
<rect x="528.5" y="341.8" width="135.3" height="77.3" fill="#fff" stroke="#262626" stroke-width="2"/>
<path d="M534 356H590.6" stroke="#008000" stroke-width="3.0"/>
<path d="M534 380.6H591" stroke="#bf00bf" stroke-width="3.0" stroke-dasharray="12 10.8"/>
<path d="M534 404.7H591" stroke="#0072bd" stroke-width="3.0" stroke-dasharray="3 2.7"/>
<g font-size="20.25" fill="#262626" stroke="#262626" stroke-width="0.2">
<text x="595.2" y="363">PFTCC</text>
<text x="595.2" y="387.1">CCC</text>
<text x="595.2" y="411.2">CFTC</text>
</g>
<text transform="translate(357.55,284.12) scale(0.3115,0.2807)" font-size="100" font-style="italic" fill="#000">t</text><text transform="translate(368.35,284.52) scale(0.2370,0.2717)" font-size="100" fill="#000">(</text><text transform="translate(376.30,284.17) scale(0.2500,0.2313)" font-size="100" fill="#000" stroke="#000" stroke-width="0.9">s</text><text transform="translate(387.51,284.52) scale(0.2308,0.2717)" font-size="100" fill="#000">)</text>
<text transform="translate(357.55,614.62) scale(0.3115,0.2807)" font-size="100" font-style="italic" fill="#000">t</text><text transform="translate(368.35,615.02) scale(0.2370,0.2717)" font-size="100" fill="#000">(</text><text transform="translate(376.30,614.67) scale(0.2500,0.2312)" font-size="100" fill="#000" stroke="#000" stroke-width="0.9">s</text><text transform="translate(387.51,615.02) scale(0.2308,0.2717)" font-size="100" fill="#000">)</text>
<g transform="translate(18.8,143.9) rotate(-90)"><text transform="translate(-0.81,-0.05) scale(0.2698,0.2514)" font-size="100" font-style="italic" fill="#000">h</text><text transform="translate(11.44,-0.08) scale(0.2148,0.2674)" font-size="100" fill="#000">(</text><text transform="translate(20.46,0.00) scale(0.2707,0.2191)" font-size="100" fill="#000" stroke="#000" stroke-width="0.9">m</text><text transform="translate(44.06,-0.08) scale(0.2808,0.2674)" font-size="100" fill="#000">)</text></g>
<g transform="translate(33.1,478.1) rotate(-90)"><text transform="translate(-0.80,-0.03) scale(0.2675,0.2333)" font-size="100" font-style="italic" fill="#000">e</text><text transform="translate(11.01,4.82) scale(0.1953,0.1814)" font-size="100" font-style="italic" fill="#000">h</text><text transform="translate(23.54,0.85) scale(0.2148,0.2707)" font-size="100" fill="#000">(</text><text transform="translate(30.76,-0.20) scale(0.2707,0.2298)" font-size="100" fill="#000" stroke="#000" stroke-width="0.9">m</text><text transform="translate(52.56,0.85) scale(0.2462,0.2707)" font-size="100" fill="#000">)</text></g>
</svg>
</body></html>
